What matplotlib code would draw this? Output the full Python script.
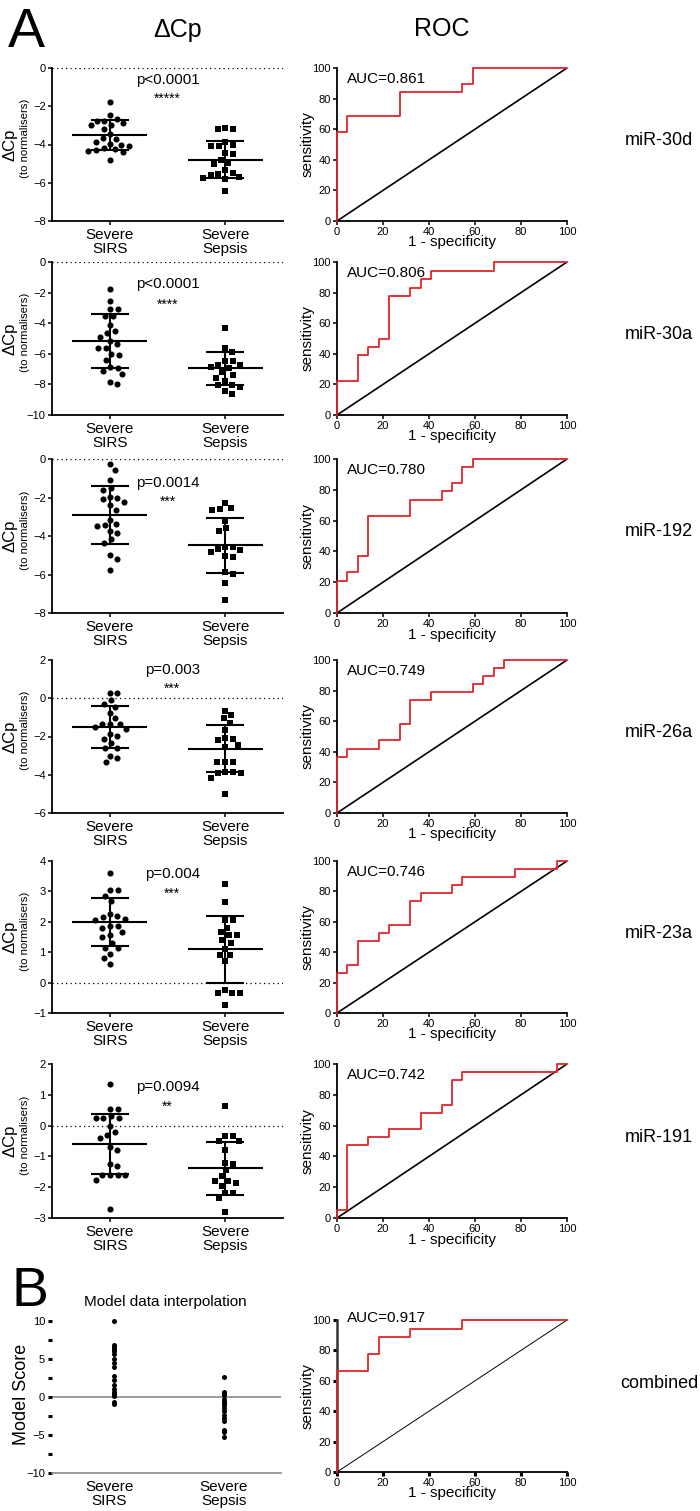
import numpy as np
import matplotlib
matplotlib.use('Agg')
import matplotlib.pyplot as plt

plt.rcParams['font.family'] = ['Liberation Sans', 'DejaVu Sans']

# ── data ────────────────────────────────────────────────────────────────────
MIRNAS = ['miR-30d', 'miR-30a', 'miR-192', 'miR-26a', 'miR-23a', 'miR-191']
P_TEXT = ['p<0.0001', 'p<0.0001', 'p=0.0014', 'p=0.003', 'p=0.004', 'p=0.0094']
STARS  = ['*****', '****', '***', '***', '***', '**']
AUC    = [0.861, 0.806, 0.780, 0.749, 0.746, 0.742]
YLIMS  = [(-8, 0), (-10, 0), (-8, 0), (-6, 2), (-1, 4), (-3, 2)]
YSTEP  = [2, 2, 2, 2, 1, 1]
GROUPS = ['Severe\nSIRS', 'Severe\nSepsis']

SIRS = [
    [-1.8, -2.45, -2.65, -2.75, -2.75, -2.9, -3.0, -3.0, -3.2, -3.45, -3.65,
     -3.7, -3.85, -3.95, -4.0, -4.1, -4.2, -4.25, -4.3, -4.35, -4.4, -4.8],
    [-1.75, -2.55, -3.1, -3.1, -3.5, -3.55, -4.1, -4.5, -4.65, -4.9, -5.15, -5.35,
     -5.6, -5.65, -6.0, -6.05, -6.4, -6.85, -6.9, -7.1, -7.3, -7.85, -8.0],
    [-0.25, -0.55, -1.1, -1.5, -1.6, -1.95, -2.05, -2.1, -2.25, -2.4, -2.65,
     -3.15, -3.4, -3.45, -3.5, -3.75, -3.85, -4.15, -4.35, -5.0, -5.2, -5.75],
    [0.3, 0.25, -0.1, -0.3, -0.45, -0.75, -1.05, -1.35, -1.35, -1.35, -1.5,
     -1.6, -1.85, -1.95, -2.15, -2.35, -2.6, -2.6, -3.0, -3.1, -3.35],
    [3.6, 3.05, 3.05, 2.85, 2.7, 2.25, 2.2, 2.15, 2.1, 2.05, 1.85, 1.85, 1.8,
     1.65, 1.55, 1.5, 1.3, 1.15, 1.15, 0.95, 0.8, 0.6],
    [1.35, 0.55, 0.55, 0.3, 0.25, 0.25, 0.25, 0.0, -0.2, -0.3, -0.4, -0.7,
     -0.8, -1.25, -1.3, -1.6, -1.6, -1.6, -1.6, -1.75, -2.7],
]
SEPSIS = [
    [-3.15, -3.2, -3.2, -3.85, -4.0, -4.1, -4.1, -4.45, -4.5, -4.8, -4.95,
     -5.0, -5.35, -5.5, -5.55, -5.6, -5.7, -5.75, -5.8, -6.45],
    [-4.3, -5.65, -5.9, -6.5, -6.5, -6.7, -6.7, -6.85, -6.95, -7.2, -7.4,
     -7.55, -7.8, -8.05, -8.05, -8.2, -8.4, -8.6],
    [-2.3, -2.55, -2.6, -2.65, -3.2, -3.6, -3.75, -4.55, -4.55, -4.65, -4.75,
     -4.85, -5.05, -5.1, -5.85, -5.95, -6.45, -7.35],
    [-0.65, -0.9, -1.05, -1.3, -1.65, -2.1, -2.15, -2.2, -2.45, -2.55, -3.35,
     -3.35, -3.35, -3.85, -3.85, -3.9, -3.9, -4.15, -5.0],
    [3.25, 2.65, 2.05, 2.05, 1.8, 1.65, 1.55, 1.55, 1.4, 1.3, 1.1, 0.9, 0.9,
     0.7, -0.25, -0.35, -0.35, -0.35, -0.75],
    [0.65, -0.35, -0.35, -0.5, -0.5, -0.8, -1.2, -1.25, -1.45, -1.65, -1.8,
     -1.8, -1.85, -1.95, -2.2, -2.2, -2.35, -2.8],
]
SIRS_MEAN   = [-3.51, -5.15, -2.90, -1.51, 2.00, -0.60]
SIRS_SD     = [0.79, 1.76, 1.50, 1.08, 0.78, 0.98]
SEPSIS_MEAN = [-4.79, -6.96, -4.47, -2.64, 1.09, -1.39]
SEPSIS_SD   = [0.97, 1.10, 1.43, 1.22, 1.10, 0.87]

ROC_FPR = [
    [0, 0, 4.5, 27.3, 54.5, 59.1, 100],
    [0, 0, 9.1, 13.6, 18.2, 22.7, 31.8, 36.4, 40.9, 68.2, 100],
    [0, 0, 4.5, 9.1, 13.6, 31.8, 45.5, 50.0, 54.5, 59.1, 100],
    [0, 0, 4.5, 18.2, 27.3, 31.8, 40.9, 59.1, 63.6, 68.2, 72.7, 100],
    [0, 0, 4.5, 9.1, 18.2, 22.7, 31.8, 36.4, 50.0, 54.5, 77.3, 95.5, 100],
    [0, 0, 4.5, 13.6, 22.7, 36.4, 45.5, 50.0, 54.5, 95.5, 100],
]
ROC_TPR = [
    [0, 57.9, 68.4, 84.2, 89.5, 100, 100],
    [0, 22.2, 38.9, 44.4, 50.0, 77.8, 83.3, 88.9, 94.4, 100, 100],
    [0, 21.1, 26.3, 36.8, 63.2, 73.7, 78.9, 84.2, 94.7, 100, 100],
    [0, 36.8, 42.1, 47.4, 57.9, 73.7, 78.9, 84.2, 89.5, 94.7, 100, 100],
    [0, 26.3, 31.6, 47.4, 52.6, 57.9, 73.7, 78.9, 84.2, 89.5, 94.7, 100, 100],
    [0, 5.3, 47.4, 52.6, 57.9, 68.4, 73.7, 89.5, 94.7, 100, 100],
]

MODEL_SIRS   = [10, 6.8, 6.6, 6.3, 6.0, 5.6, 5.0, 4.5, 3.9, 2.8, 2.2, 1.6, 1.0,
                0.7, 0.4, 0.1, -0.6, -0.9]
MODEL_SEPSIS = [2.6, 0.7, 0.5, 0.2, -0.2, -0.5, -0.8, -1.1, -1.5, -1.9, -2.4,
                -2.8, -3.2, -4.3, -4.6, -5.2]
COMB_AUC = 0.917
COMB_FPR = [0, 0, 13.6, 18.2, 31.8, 54.5, 100]
COMB_TPR = [0, 66.7, 77.8, 88.9, 94.4, 100, 100]

# ── layout (pixels) ─────────────────────────────────────────────────────────
W, H = 700, 1511
ROWS = [(68, 221), (262, 415), (459, 613), (660, 813), (861, 1013), (1064, 1218)]
ROW_B = (1321, 1473)
SC_X = (52, 283)
ROC_X = (337, 567)
P_POS = [(0.50, 0.92, 0.80), (0.50, 0.856, 0.72), (0.50, 0.844, 0.723),
         (0.52, 0.935, 0.813), (0.52, 0.914, 0.786), (0.50, 0.85, 0.723)]
RED = '#e2252b'

fig = plt.figure(figsize=(W / 100, H / 100), dpi=100)


def ax_px(x0, y0, x1, y1):
    return fig.add_axes([x0 / W, 1 - y1 / H, (x1 - x0) / W, (y1 - y0) / H])


def ftext(x, y, s, **kw):
    fig.text(x / W, 1 - y / H, s, **kw)


def swarm(vals, d):
    """simple beeswarm: offsets in pixels for points with y in pixels"""
    ys = np.asarray(vals, float)
    xs = np.zeros(len(ys))
    placed = []
    for i in np.argsort(-ys):
        y = ys[i]
        cands = [0.0]
        for xj, yj in placed:
            dy = abs(y - yj)
            if dy < d:
                dx = np.sqrt(d * d - dy * dy)
                cands += [xj + dx, xj - dx]
        cands.sort(key=abs)
        for c in cands:
            if all((c - xj) ** 2 + (y - yj) ** 2 >= d * d - 1e-6 for xj, yj in placed):
                xs[i] = c
                break
        placed.append((xs[i], y))
    return xs


def style_spines(ax, lw=1.3):
    for s in ['top', 'right']:
        ax.spines[s].set_visible(False)
    for s in ['left', 'bottom']:
        ax.spines[s].set_linewidth(lw)
    ax.tick_params(direction='out', length=3, width=1.1, labelsize=8, pad=1.5)


def roc_axes(ax, fpr, tpr, auc, diag_lw=1.2, auc_y=0.93):
    style_spines(ax)
    ax.plot([0, 100], [0, 100], color='black', lw=diag_lw, zorder=3)
    ax.plot(fpr, tpr, drawstyle='steps-post', color=RED, lw=1.3,
            clip_on=False, zorder=5)
    ax.set_xlim(0, 100)
    ax.set_ylim(0, 100)
    ax.set_xticks(range(0, 101, 20))
    ax.set_yticks(range(0, 101, 20))
    ax.text(0.045, auc_y, f'AUC={auc:.3f}', transform=ax.transAxes,
            ha='left', va='center', fontsize=11)
    ax.text(0.5, -0.14, '1 - specificity', transform=ax.transAxes,
            ha='center', va='center', fontsize=11)
    ax.text(-0.13, 0.5, 'sensitivity', transform=ax.transAxes, rotation=90,
            ha='center', va='center', fontsize=11)


# ── panel A ────────────────────────────────────────────────────────────────
ftext(8, 33, 'A', fontsize=40, ha='left', va='center')
ftext(178, 30, 'ΔCp', fontsize=18, ha='center', va='center')
ftext(442, 29, 'ROC', fontsize=18, ha='center', va='center')

for r, (y0, y1) in enumerate(ROWS):
    lo, hi = YLIMS[r]
    ax = ax_px(SC_X[0], y0, SC_X[1], y1)
    style_spines(ax)
    ax.set_xlim(-0.5, 1.5)
    ax.set_ylim(lo, hi)
    ax.set_yticks(np.arange(lo, hi + 0.01, YSTEP[r]))
    ax.set_xticks([0, 1])
    ax.set_xticklabels(GROUPS, fontsize=11, linespacing=1.05)
    ax.tick_params(axis='x', pad=2)
    ax.axhline(0, color='black', lw=0.9, ls=(0, (1, 2.6)), zorder=1)

    ppu = (y1 - y0) / (hi - lo)           # pixels per data unit (y)
    xpu = (SC_X[1] - SC_X[0]) / 2.0       # pixels per data unit (x)
    for gx, vals, mk, ms, mean, sd in [
            (0, SIRS[r], 'o', 4.4, SIRS_MEAN[r], SIRS_SD[r]),
            (1, SEPSIS[r], 's', 4.1, SEPSIS_MEAN[r], SEPSIS_SD[r])]:
        off = swarm(np.array(vals) * ppu, 7.8) / xpu
        ax.plot(gx + off, vals, ls='none', marker=mk, ms=ms, color='black',
                mew=0, zorder=3, clip_on=False)
        ax.hlines(mean, gx - 0.325, gx + 0.325, color='black', lw=1.5, zorder=4)
        ax.vlines(gx, mean - sd, mean + sd, color='black', lw=1.5, zorder=4)
        ax.hlines([mean - sd, mean + sd], gx - 0.165, gx + 0.165,
                  color='black', lw=1.5, zorder=4)

    px_, py_, sy_ = P_POS[r]
    ax.text(px_, py_, P_TEXT[r], transform=ax.transAxes, ha='center',
            va='center', fontsize=10.8)
    ax.text(px_, sy_, STARS[r], transform=ax.transAxes, ha='center',
            va='center', fontsize=10)

    yc = (y0 + y1) / 2
    ftext(10, yc, 'ΔCp', rotation=90, ha='center', va='center', fontsize=12)
    ftext(25.5, yc - 6, '(to normalisers)', rotation=90, ha='center',
          va='center', fontsize=8.2)

    rax = ax_px(ROC_X[0], y0, ROC_X[1], y1)
    roc_axes(rax, ROC_FPR[r], ROC_TPR[r], AUC[r])
    ftext(625, yc - 4, MIRNAS[r], ha='left', va='center', fontsize=13)

# ── panel B ────────────────────────────────────────────────────────────────
ftext(12, 1306, 'B', fontsize=40, ha='left', va='baseline')
ftext(165, 1302, 'Model data interpolation', ha='center', va='center', fontsize=11)

y0, y1 = ROW_B
bax = ax_px(SC_X[0], y0, 281, y1)
for s in ['top', 'right', 'left']:
    bax.spines[s].set_visible(False)
bax.spines['bottom'].set_color('#8a8a8a')
bax.spines['bottom'].set_linewidth(1.2)
bax.set_xlim(-0.5, 1.5)
bax.set_ylim(-10, 10)
bax.set_yticks([-10, -5, 0, 5, 10])
bax.set_yticks([-7.5, -2.5, 2.5, 7.5], minor=True)
bax.tick_params(axis='y', which='both', direction='out', length=3, width=2.2,
                labelsize=8, pad=2)
bax.set_xticks([0, 1])
bax.set_xticklabels(GROUPS, fontsize=11, linespacing=1.05)
bax.tick_params(axis='x', length=0, pad=5)
bax.axhline(0, color='#8a8a8a', lw=1.2, zorder=1)
bax.plot(np.full(len(MODEL_SIRS), 0.04), MODEL_SIRS, ls='none', marker='o',
         ms=3.6, color='black', mew=0, zorder=3, clip_on=False)
bax.plot(np.full(len(MODEL_SEPSIS), 1.0), MODEL_SEPSIS, ls='none', marker='o',
         ms=3.6, color='black', mew=0, zorder=3, clip_on=False)
ftext(22, 1394, 'Model Score', rotation=90, ha='center', va='center', fontsize=13)

cax = ax_px(ROC_X[0], 1320, ROC_X[1], 1472)
roc_axes(cax, COMB_FPR, COMB_TPR, COMB_AUC, diag_lw=0.7, auc_y=1.015)
cax.spines['left'].set_color('#333333')
cax.spines['left'].set_linewidth(1.8)
cax.tick_params(axis='both', width=2.2)
ftext(620, 1383, 'combined', ha='left', va='center', fontsize=13)

fig.savefig('out.png', dpi=100)
